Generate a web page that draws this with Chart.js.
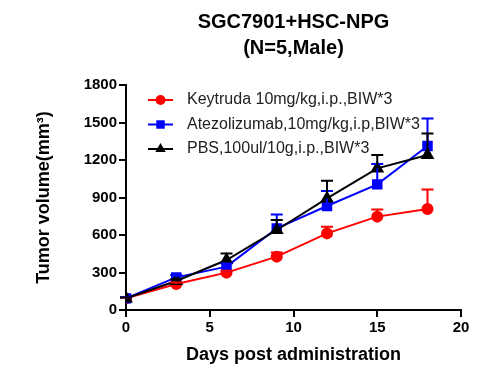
<!DOCTYPE html>
<html>
<head>
<meta charset="utf-8">
<script src="https://cdn.jsdelivr.net/npm/chart.js@4.4.1/dist/chart.umd.min.js"></script>
<style>
  html, body { margin: 0; padding: 0; background: #fff; }
  #wrap { width: 501px; height: 370px; }
</style>
</head>
<body>
<div id="wrap"><canvas id="tumorChart" width="501" height="370"></canvas></div>
<script>
const days = [0, 3, 6, 9, 12, 15, 18];
const keytruda = [93, 208, 299, 427, 613, 747, 808];
const keytrudaErr = [8, 12, 15, 34, 54, 58, 157];
const atezo = [93, 261, 347, 653, 832, 1005, 1312];
const atezoErr = [10, 20, 25, 112, 120, 163, 221];
const pbs = [93, 232, 400, 640, 893, 1133, 1240];
const pbsErr = [8, 15, 53, 80, 142, 107, 173];
const seriesLabels = [
  "Keytruda 10mg/kg,i.p.,BIW*3",
  "Atezolizumab,10mg/kg,i.p,BIW*3",
  "PBS,100ul/10g,i.p.,BIW*3",
];
const titleLines = ["SGC7901+HSC-NPG", "(N=5,Male)"];

const FONT = "'Liberation Sans', Arial, sans-serif";

const toPoints = (vals) => vals.map((v, i) => ({ x: days[i], y: v }));

// upper-only error bars, like the prism export
const errorBars = {
  id: "errorBars",
  afterDatasetsDraw(chart) {
    const { ctx, scales } = chart;
    chart.data.datasets.forEach((ds) => {
      if (!ds.errors) return;
      ctx.save();
      ctx.strokeStyle = ds.borderColor;
      ctx.lineWidth = 2;
      ds.data.forEach((p, i) => {
        const x = scales.x.getPixelForValue(p.x);
        const y0 = scales.y.getPixelForValue(p.y);
        const y1 = scales.y.getPixelForValue(p.y + ds.errors[i]);
        ctx.beginPath();
        ctx.moveTo(x, y0);
        ctx.lineTo(x, y1);
        ctx.moveTo(x - 6, y1);
        ctx.lineTo(x + 6, y1);
        ctx.stroke();
      });
      ctx.restore();
    });
  },
};

// legend with line + marker inside the plot area
const lineLegend = {
  id: "lineLegend",
  afterDraw(chart) {
    const { ctx, chartArea } = chart;
    ctx.save();
    chart.data.datasets.forEach((ds, i) => {
      const y = chartArea.top + 15 + i * 24.5;
      const x0 = chartArea.left + 22;
      ctx.strokeStyle = ds.borderColor;
      ctx.fillStyle = ds.borderColor;
      ctx.lineWidth = 2;
      ctx.beginPath();
      ctx.moveTo(x0, y);
      ctx.lineTo(x0 + 25, y);
      ctx.stroke();
      Chart.helpers.drawPoint(ctx, { pointStyle: ds.pointStyle, radius: ds.pointRadius, borderWidth: 0 }, x0 + 12.5, y);
      ctx.fillStyle = "#222";
      ctx.font = "16px " + FONT;
      ctx.textBaseline = "middle";
      ctx.fillText(ds.label, x0 + 39, y);
    });
    ctx.restore();
  },
};

const axisStyle = {
  grid: { drawOnChartArea: false, drawTicks: true, tickLength: 7, color: "#000", lineWidth: 2 },
  border: { display: true, color: "#000", width: 2 },
};

new Chart(document.getElementById("tumorChart"), {
  type: "line",
  data: {
    datasets: [
      {
        label: seriesLabels[0],
        data: toPoints(keytruda),
        errors: keytrudaErr,
        borderColor: "#ff0000",
        backgroundColor: "#ff0000",
        pointStyle: "circle",
        pointRadius: 5,
        borderWidth: 2,
        order: 2,
      },
      {
        label: seriesLabels[1],
        data: toPoints(atezo),
        errors: atezoErr,
        borderColor: "#0000ff",
        backgroundColor: "#0000ff",
        pointStyle: "rect",
        pointRadius: 6,
        borderWidth: 2,
        order: 1,
      },
      {
        label: seriesLabels[2],
        data: toPoints(pbs),
        errors: pbsErr,
        borderColor: "#000000",
        backgroundColor: "#000000",
        pointStyle: "triangle",
        pointRadius: 6,
        borderWidth: 2,
        order: 0,
      },
    ],
  },
  options: {
    responsive: false,
    animation: false,
    events: [],
    layout: { padding: { left: 33, right: 40, top: 0, bottom: 4 } },
    plugins: {
      legend: { display: false },
      tooltip: { enabled: false },
      title: {
        display: true,
        fullSize: false,
        text: titleLines,
        color: "#000",
        font: { family: FONT, size: 20, weight: "bold", lineHeight: 1.3 },
        padding: { top: 9, bottom: 24 },
      },
    },
    scales: {
      x: {
        type: "linear",
        min: 0,
        max: 20,
        ...axisStyle,
        ticks: { stepSize: 5, color: "#000", padding: 2, font: { family: FONT, size: 15, weight: "bold" } },
        title: {
          display: true,
          text: "Days post administration",
          color: "#000",
          font: { family: FONT, size: 18, weight: "bold" },
          padding: { top: 3, bottom: 0 },
        },
        afterFit(scale) { scale.height = 56; },
      },
      y: {
        min: 0,
        max: 1800,
        ...axisStyle,
        ticks: {
          stepSize: 300,
          color: "#000",
          padding: 2,
          font: { family: FONT, size: 15, weight: "bold" },
          callback: (v) => String(v),
        },
        title: {
          display: true,
          text: "Tumor volume(mm³)",
          color: "#000",
          font: { family: FONT, size: 18, weight: "bold" },
          padding: { top: 0, bottom: 4 },
        },
        afterFit(scale) { scale.width = 93; },
      },
    },
  },
  plugins: [errorBars, lineLegend],
});
</script>
</body>
</html>
